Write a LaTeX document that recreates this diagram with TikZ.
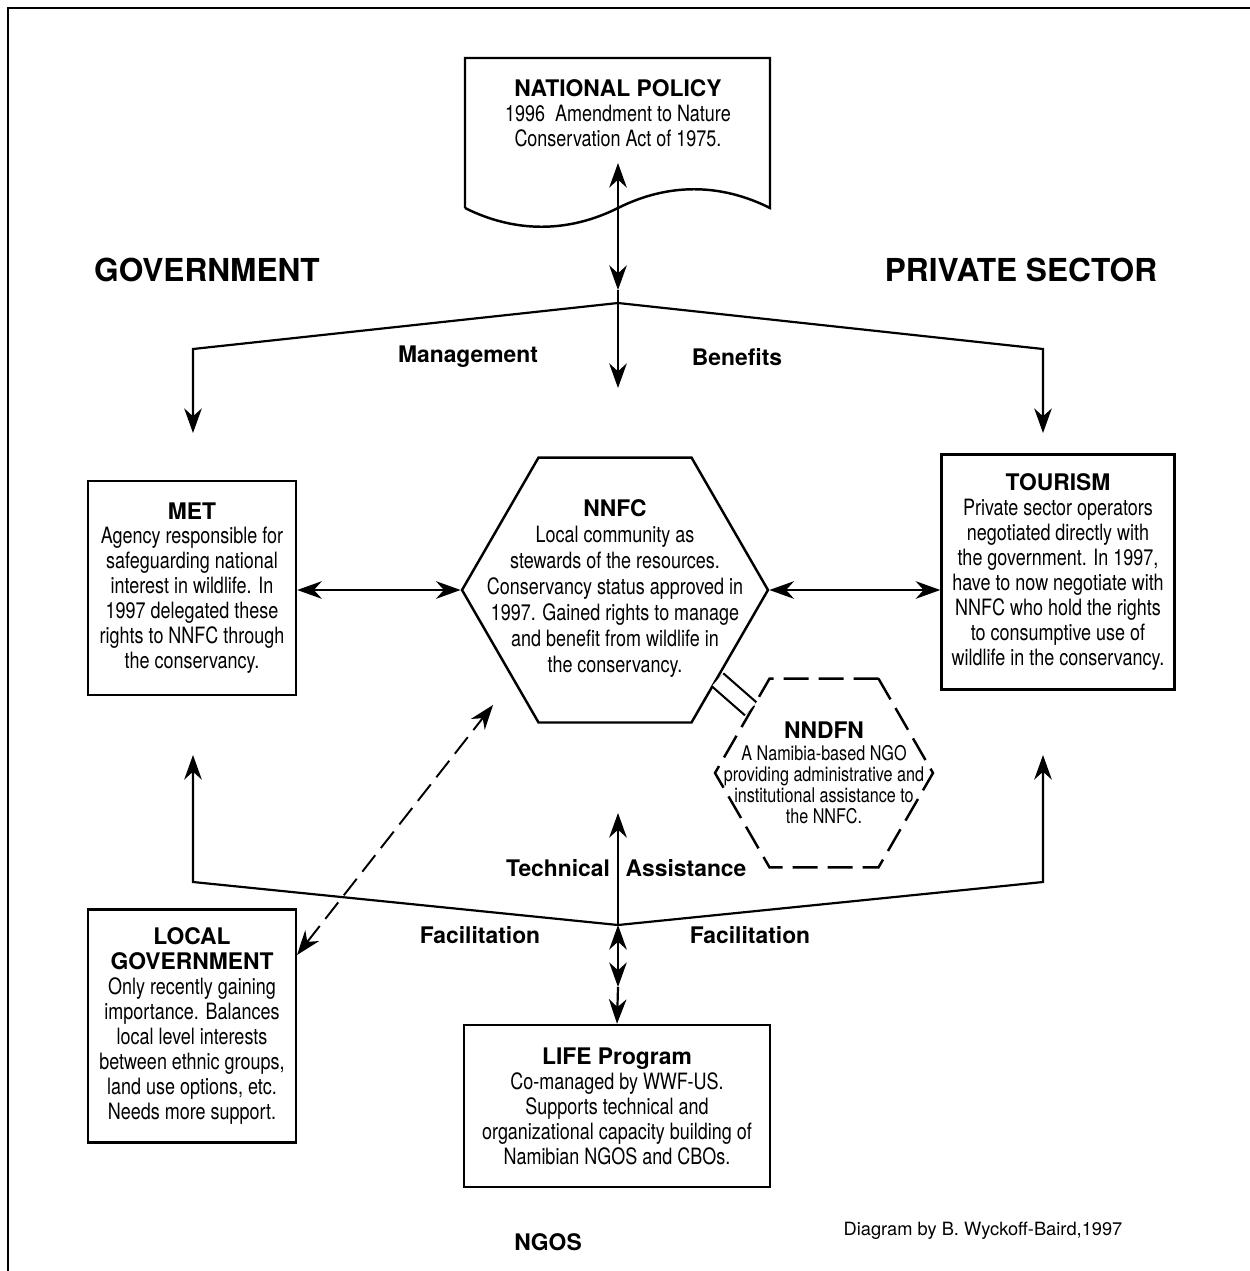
\documentclass[tikz,border=0pt]{standalone}
\usepackage{fontspec}
\setmainfont{TeX Gyre Heros}
\newfontfamily\condfont[FakeStretch=0.8]{TeX Gyre Heros}
\usetikzlibrary{arrows.meta,shapes.geometric}

\newcommand{\bodyfont}{\condfont\fontsize{12.8}{14.2}\selectfont}
\newcommand{\smallbody}{\condfont\fontsize{11.5}{12}\selectfont}
\newcommand{\hd}[1]{{\rmfamily\bfseries\fontsize{13}{14.2}\selectfont #1}}

\tikzset{
  link/.style={line width=1.25pt, -{Stealth[length=14pt,width=10pt,inset=4.5pt]}},
  dlink/.style={line width=1.25pt, {Stealth[length=14pt,width=10pt,inset=4.5pt]}-{Stealth[length=14pt,width=10pt,inset=4.5pt]}},
  wire/.style={line width=1.25pt},
  card/.style={draw, line width=1.4pt, align=center, inner sep=0pt, font=\bodyfont},
  hexa/.style={draw, line width=1.4pt, regular polygon, regular polygon sides=6, inner sep=0pt},
  body/.style={align=center, font=\bodyfont},
  tag/.style={font=\fontsize{13}{15}\selectfont\bfseries},
  bigtag/.style={font=\fontsize{18}{20}\selectfont\bfseries}
}

\begin{document}
\begin{tikzpicture}[x=0.02cm, y=-0.02cm]
\useasboundingbox (0,0) rectangle (1250,1271);
\draw[line width=1.7pt] (8,1271) -- (8,8) -- (1250,8);

\draw[line width=1.4pt] (465,208) -- (465,58) -- (770,58) -- (770,208)
  .. controls (720,183) and (668,183) .. (618,208)
  .. controls (568,233) and (515,233) .. (465,208);
\node[body] (policy) at (618,113) {\hd{NATIONAL POLICY}\\1996\ \ Amendment to Nature\\Conservation Act of 1975.};

\node[bigtag] (gov) at (207,270) {GOVERNMENT};
\node[bigtag] (priv) at (1021,270) {PRIVATE SECTOR};
\node[tag] (mgmt) at (468,357) {Management};
\node[tag] (bene) at (737,357) {Benefits};

\node[card, minimum width=4.16cm, minimum height=4.28cm] (met) at (192,588) {\hd{MET}\\Agency responsible for\\safeguarding national\\interest in wildlife. In\\1997 delegated these\\rights to NNFC through\\the conservancy.};
\node[card, minimum width=4.66cm, minimum height=4.7cm] (tourism) at (1058,572) {\hd{TOURISM}\\Private sector operators\\negotiated directly with\\the government. In 1997,\\have to now negotiate with\\NNFC who hold the rights\\to consumptive use of\\wildlife in the conservancy.};

\node[hexa, minimum size=6.12cm] (nnfc) at (615,590) {};
\node[body, font=\condfont\fontsize{12.8}{14.8}\selectfont] (nnfctext) at (615,588) {\hd{NNFC}\\Local community as\\stewards of the resources.\\Conservancy status approved in\\1997. Gained rights to manage\\and benefit from wildlife in\\the conservancy.};

\node[hexa, dash pattern=on 0.5cm off 0.2cm, minimum size=4.36cm] (nndfn) at (824,773) {};
\node[body, font=\smallbody] (nndfntext) at (824,773) {\hd{NNDFN}\\A Namibia-based NGO\\providing administrative and\\institutional assistance to\\the NNFC.};

\node[card, minimum width=4.16cm, minimum height=4.66cm] (lg) at (192,1026) {\hd{LOCAL}\\\hd{GOVERNMENT}\\Only recently gaining\\importance. Balances\\local level interests\\between ethnic groups,\\land use options, etc.\\Needs more support.};
\node[card, minimum width=6.12cm, minimum height=3.24cm] (life) at (617,1106) {\hd{LIFE Program}\\Co-managed by WWF-US.\\Supports technical and\\organizational capacity building of\\Namibian NGOS and CBOs.};

\node[tag] (tech) at (558,868) {Technical};
\node[tag] (assist) at (686,868) {Assistance};
\node[tag] (facL) at (480,935) {Facilitation};
\node[tag] (facR) at (750,935) {Facilitation};
\node[tag] (ngos) at (548,1242) {NGOS};
\node[font=\fontsize{10.4}{12}\selectfont] (credit) at (983,1231) {Diagram by B. Wyckoff-Baird,1997};

\coordinate (hub) at (618,303);
\coordinate (hubL) at (193,349);
\coordinate (hubR) at (1043,349);
\coordinate (policyin) at (618,163);
\coordinate (hubup) at (618,290);
\coordinate (hubdown) at (618,388);
\coordinate (metin) at (193,433);
\coordinate (tourin) at (1043,433);
\draw[dlink] (policyin) -- (hubup);
\draw[wire] (hubup) -- (hub);
\draw[link] (hub) -- (hubdown);
\draw[link] (hub) -- (hubL) -- (metin);
\draw[link] (hub) -- (hubR) -- (tourin);

\draw[dlink] (met.east |- nnfc.west) -- (nnfc.west);
\draw[dlink] (nnfc.east) -- (tourism.west |- nnfc.east);
\draw[line width=1.25pt, double distance=0.3cm] (nnfc) -- (nndfn);

\coordinate (base) at (618,925);
\coordinate (baseL) at (193,882);
\coordinate (baseR) at (1043,882);
\coordinate (metup) at (193,755);
\coordinate (tourup) at (1043,755);
\coordinate (nnfcup) at (618,813);
\coordinate (lifemid) at (618,987);
\draw[link] (base) -- (baseL) -- (metup);
\draw[link] (base) -- (baseR) -- (tourup);
\draw[link] (base) -- (nnfcup);
\draw[dlink] (base) -- (lifemid);
\draw[link] (lifemid) -- (life.north);

\coordinate (lgtip) at (297,955);
\coordinate (nnfcdash) at (493,705);
\draw[dlink, line width=1.1pt, dash pattern=on 0.42cm off 0.18cm] (lgtip) -- (nnfcdash);
\end{tikzpicture}
\end{document}
